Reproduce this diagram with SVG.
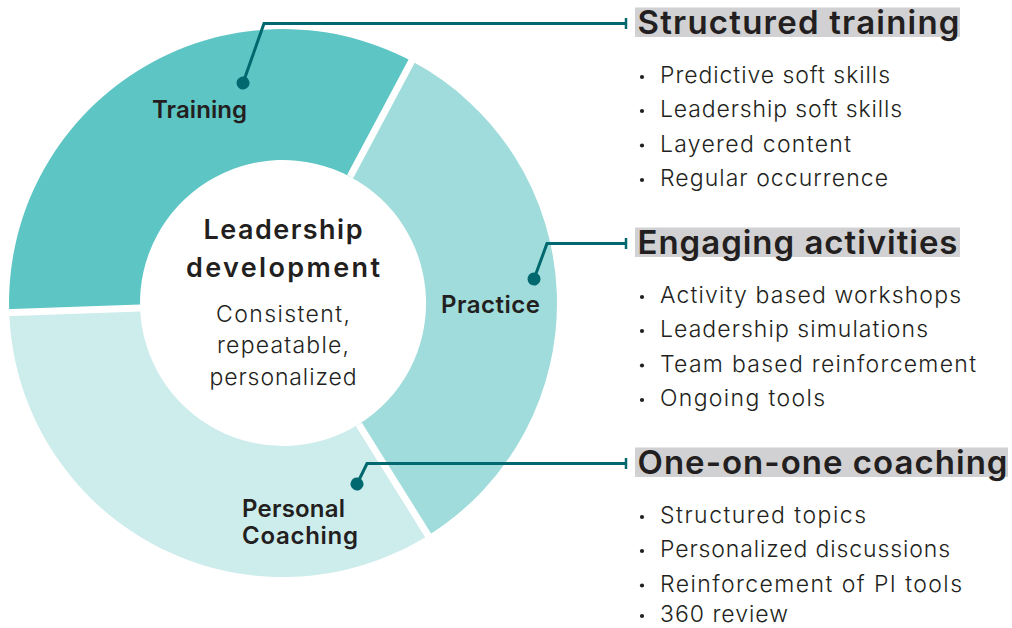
<svg xmlns="http://www.w3.org/2000/svg" width="1012" height="628" viewBox="0 0 1012 628">
<style>
text{font-family:Inter,"Liberation Sans",sans-serif;fill:#231F20}
.seg{font-weight:600;font-size:24px}
.ct{font-weight:600;font-size:27px;text-anchor:middle}
.cs{font-weight:300;font-size:23px;text-anchor:middle}
.hd{font-weight:600;font-size:33px}
.bl{font-weight:300;font-size:23px}
.hbox{fill:#D1D1D3}
.dotb{fill:#231F20}
.conn{fill:none;stroke:#00686E;stroke-width:3;marker-start:url(#dot);marker-end:url(#tick)}
.sep{stroke:#fff;stroke-width:7}
</style>
<defs>
<marker id="dot" markerUnits="userSpaceOnUse" viewBox="-8 -8 16 16" refX="0" refY="0" markerWidth="16" markerHeight="16" orient="auto"><circle r="6.5" fill="#00686E"/></marker>
<marker id="tick" markerUnits="userSpaceOnUse" viewBox="-4 -8 8 16" refX="0" refY="0" markerWidth="8" markerHeight="16" orient="auto"><line x1="0" y1="-5.5" x2="0" y2="5.5" stroke="#00686E" stroke-width="2.5"/></marker>
</defs>
<rect width="1012" height="628" fill="#fff"/>
<g id="donut">
<path id="seg-training" fill="#5DC5C4" d="M9.2,312.6 A274,274 0 0 1 411.6,61.1 L350.1,176.7 A143,143 0 0 0 140.1,308 Z"/>
<path id="seg-practice" fill="#9FDCDB" d="M411.6,61.1 A274,274 0 0 1 428.2,535.4 L358.8,424.3 A143,143 0 0 0 350.1,176.7 Z"/>
<path id="seg-coaching" fill="#CDECEC" d="M428.2,535.4 A274,274 0 0 1 9.2,312.6 L140.1,308 A143,143 0 0 0 358.8,424.3 Z"/>
<line class="sep" x1="350.1" y1="176.7" x2="413.5" y2="57.6"/>
<line class="sep" x1="358.8" y1="424.3" x2="430.3" y2="538.8"/>
<line class="sep" x1="140.1" y1="308" x2="5.2" y2="312.7"/>
</g>
<g id="node-center">
<text class="ct" x="283" y="239" textLength="159">Leadership</text>
<text class="ct" x="283" y="277" textLength="194">development</text>
<text class="cs" x="283" y="321.5" textLength="134">Consistent,</text>
<text class="cs" x="283" y="353" textLength="132">repeatable,</text>
<text class="cs" x="283" y="385" textLength="147">personalized</text>
</g>
<g id="node-training-label"><text class="seg" x="152" y="118" textLength="95">Training</text></g>
<g id="node-practice-label"><text class="seg" x="441" y="313" textLength="99">Practice</text></g>
<g id="node-coaching-label">
<text class="seg" x="242" y="516.5" textLength="103">Personal</text>
<text class="seg" x="242" y="543.5" textLength="116">Coaching</text>
</g>
<g id="connectors">
<path class="conn" d="M243,83 L264,23.5 H626"/>
<path class="conn" d="M534,279 L547,243.5 H626"/>
<path class="conn" d="M357,484 L367,463.5 H626"/>
</g>
<g id="node-structured-training">
<rect class="hbox" x="635" y="7.5" width="325" height="29.5"/>
<text class="hd" x="637.5" y="34" textLength="322">Structured training</text>
<circle class="dotb" cx="642" cy="77" r="2.1"/>
<circle class="dotb" cx="642" cy="111" r="2.1"/>
<circle class="dotb" cx="642" cy="145.5" r="2.1"/>
<circle class="dotb" cx="642" cy="180" r="2.1"/>
<text class="bl" x="660" y="83" textLength="230">Predictive soft skills</text>
<text class="bl" x="660" y="117" textLength="242">Leadership soft skills</text>
<text class="bl" x="660" y="151.5" textLength="191">Layered content</text>
<text class="bl" x="660" y="186" textLength="228">Regular occurrence</text>
</g>
<g id="node-engaging-activities">
<rect class="hbox" x="635" y="227.5" width="325" height="29.5"/>
<text class="hd" x="637.5" y="254" textLength="320">Engaging activities</text>
<circle class="dotb" cx="642" cy="297" r="2.1"/>
<circle class="dotb" cx="642" cy="331" r="2.1"/>
<circle class="dotb" cx="642" cy="365.5" r="2.1"/>
<circle class="dotb" cx="642" cy="400" r="2.1"/>
<text class="bl" x="660" y="303" textLength="301">Activity based workshops</text>
<text class="bl" x="660" y="337" textLength="268">Leadership simulations</text>
<text class="bl" x="660" y="371.5" textLength="316">Team based reinforcement</text>
<text class="bl" x="660" y="406" textLength="165">Ongoing tools</text>
</g>
<g id="node-one-on-one-coaching">
<rect class="hbox" x="635" y="447.5" width="373" height="29.5"/>
<text class="hd" x="637.5" y="474" textLength="370">One-on-one coaching</text>
<circle class="dotb" cx="642" cy="517" r="2.1"/>
<circle class="dotb" cx="642" cy="551" r="2.1"/>
<circle class="dotb" cx="642" cy="585.5" r="2.1"/>
<circle class="dotb" cx="642" cy="616" r="2.1"/>
<text class="bl" x="660" y="523" textLength="206">Structured topics</text>
<text class="bl" x="660" y="557" textLength="290">Personalized discussions</text>
<text class="bl" x="660" y="591.5" textLength="302">Reinforcement of PI tools</text>
<text class="bl" x="660" y="622" textLength="128">360 review</text>
</g>
</svg>
